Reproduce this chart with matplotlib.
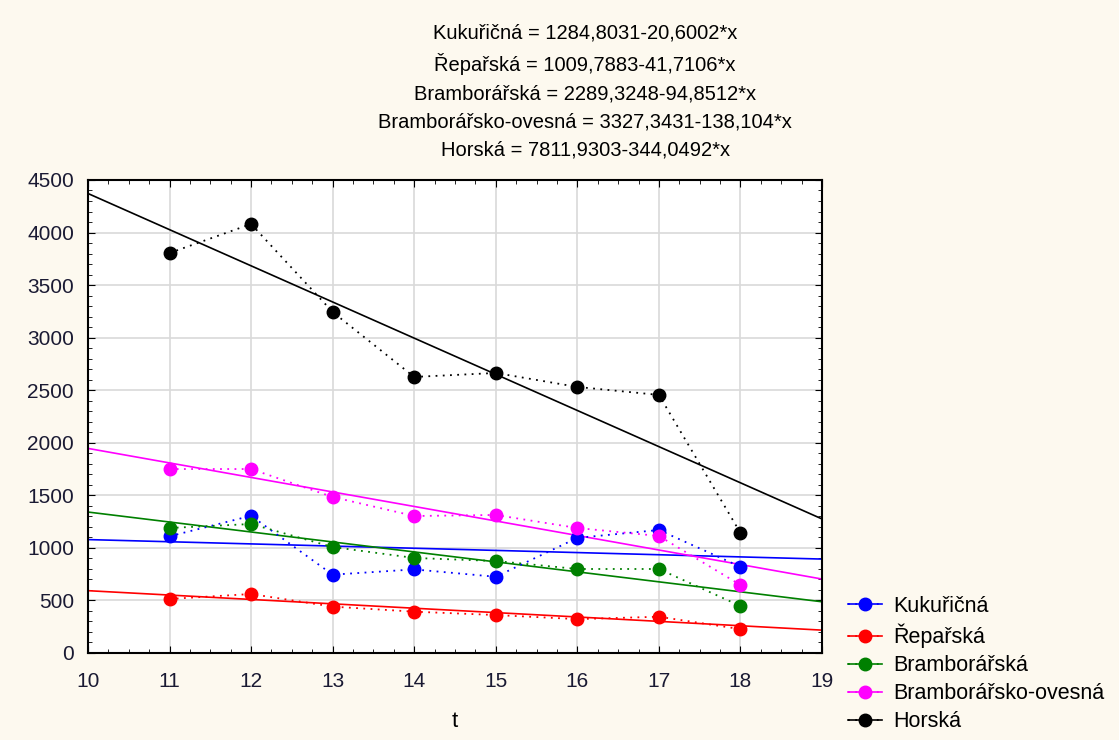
import numpy as np
import matplotlib
matplotlib.use("Agg")
import matplotlib.pyplot as plt
from matplotlib.ticker import MultipleLocator

plt.rcParams['font.family'] = ['Liberation Sans', 'DejaVu Sans']

# data
t = [11, 12, 13, 14, 15, 16, 17, 18]
names = ["Kukuřičná", "Řepařská", "Bramborářská", "Bramborářsko-ovesná", "Horská"]
colors = ["blue", "red", "green", "magenta", "black"]
kukuricna = [1110, 1305, 745, 795, 725, 1095, 1170, 820]
reparska = [514, 561, 441, 393, 361, 322, 345, 227]
bramborarska = [1189, 1227, 1008, 904, 875, 799, 799, 447]
brambor_oves = [1750, 1750, 1484, 1303, 1313, 1189, 1113, 647]
horska = [3805, 4081, 3244, 2626, 2664, 2531, 2455, 1142]
series = [kukuricna, reparska, bramborarska, brambor_oves, horska]

# fitted regression lines: intercept, slope
intercepts = [1284.8031, 1009.7883, 2289.3248, 3327.3431, 7811.9303]
slopes = [-20.6002, -41.7106, -94.8512, -138.104, -344.0492]
eq_text = ["1284,8031-20,6002*x", "1009,7883-41,7106*x", "2289,3248-94,8512*x",
           "3327,3431-138,104*x", "7811,9303-344,0492*x"]

bg = "#fdf9ef"
fig = plt.figure(figsize=(11.19, 7.40), dpi=100, facecolor=bg)
ax = fig.add_axes([0.0786, 0.1176, 0.656, 0.6392])
ax.set_facecolor("white")

xf = np.array([10, 19])
handles = []
for name, col, ys, a, b in zip(names, colors, series, intercepts, slopes):
    ax.plot(xf, a + b * xf, color=col, lw=1.2, zorder=2)
    ln, = ax.plot(t, ys, color=col, ls=(0, (1, 3)), lw=1.3, marker="o",
                  markersize=9, zorder=3)
    solid, = ax.plot([], [], color=col, lw=1.2)
    handles.append((solid, ln))

ax.set_xlim(10, 19)
ax.set_ylim(0, 4500)
ax.xaxis.set_major_locator(MultipleLocator(1))
ax.xaxis.set_minor_locator(MultipleLocator(0.25))
ax.yaxis.set_major_locator(MultipleLocator(500))
ax.yaxis.set_minor_locator(MultipleLocator(100))
ax.grid(True, which="major", color="#d9d9d9", lw=1.2, zorder=0)
ax.set_axisbelow(True)
ax.tick_params(which="both", direction="in", top=True, right=True, labelsize=15,
               labelcolor="#1a1a33")
ax.tick_params(axis="x", which="both", pad=14)
ax.tick_params(axis="y", which="both", pad=10)
ax.tick_params(which="major", length=5)
ax.tick_params(which="minor", length=3)
for s in ax.spines.values():
    s.set_color("black")
    s.set_linewidth(1.5)
ax.set_xlabel("t", fontsize=16, labelpad=14)

title = "\n".join(f"{n} = {e}" for n, e in zip(names, eq_text))
fig.text(0.523, 0.968, title, ha="center", va="top", fontsize=14.5, linespacing=1.6)

ax.legend(handles, names, loc="upper left", bbox_to_anchor=(1.0, 0.175),
          frameon=False, fontsize=15.5, handlelength=1.6, handletextpad=0.5,
          labelspacing=0.32, borderaxespad=0.8)

fig.savefig("out.png", dpi=100, facecolor=bg)
